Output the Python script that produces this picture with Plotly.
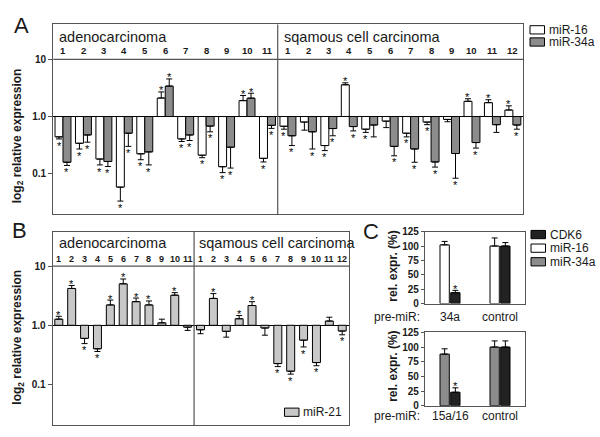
import numpy as np
import plotly.graph_objects as go

W, H = 600, 437
FONT = "Liberation Sans, Arial, sans-serif"
INK = "#1a1a1a"
FRAME = "#555555"
WHITE_BAR = "#ffffff"
GRAY_BAR = "#8c8c8c"
LIGHT_BAR = "#c8c8c8"
BLACK_BAR = "#222222"

# ---------------- data ----------------
adeno_ids = ["1", "2", "3", "4", "5", "6", "7", "8", "9", "10", "11"]
squam_ids = ["1", "2", "3", "4", "5", "6", "7", "8", "9", "10", "11", "12"]
group_names = ["adenocarcinoma", "sqamous cell carcinoma"]

# Panel A: relative expression (linear), SE, significance (adeno 1-11, then squamous 1-12)
a_mir16 = [0.44, 0.34, 0.18, 0.058, 0.222, 2.11, 0.405, 0.21, 0.132, 1.9, 0.185,
           0.675, 0.80, 0.31, 3.6, 0.60, 0.83, 0.51, 0.80, 0.89, 1.85, 1.75, 1.30]
a_mir16_err = [0.035, 0.07, 0.038, 0.025, 0.047, 0.59, 0.04, 0.02, 0.028, 0.44, 0.025,
               0.075, 0.223, 0.057, 0.3, 0.073, 0.19, 0.07, 0.08, 0.08, 0.2, 0.22, 0.24]
a_mir16_sig = [1, 1, 1, 1, 1, 1, 1, 1, 1, 1, 1,
               1, 0, 1, 1, 1, 0, 1, 1, 0, 1, 1, 1]
a_mir34a = [0.158, 0.475, 0.163, 0.51, 0.24, 3.42, 0.475, 0.68, 0.29, 2.1, 0.70,
            0.46, 0.54, 0.616, 0.667, 0.71, 0.30, 0.27, 0.16, 0.225, 0.35, 0.72, 0.71]
a_mir34a_err = [0.019, 0.12, 0.03, 0.21, 0.098, 1.14, 0.095, 0.14, 0.165, 0.46, 0.08,
                0.15, 0.27, 0.156, 0.107, 0.27, 0.095, 0.112, 0.03, 0.142, 0.07, 0.193, 0.11]
a_mir34a_sig = [1, 1, 1, 1, 1, 1, 1, 1, 1, 1, 1,
                1, 1, 1, 1, 0, 1, 1, 1, 1, 1, 0, 1]

# Panel B: miR-21
b_mir21 = [1.27, 4.2, 0.60, 0.40, 2.21, 5.03, 2.51, 2.21, 1.10, 3.23, 0.93,
           0.84, 2.85, 0.79, 1.29, 2.16, 0.90, 0.225, 0.167, 0.56, 0.234, 1.18, 0.80]
b_mir21_err = [0.15, 0.52, 0.11, 0.04, 0.46, 1.05, 0.38, 0.37, 0.17, 0.34, 0.11,
               0.12, 0.59, 0.16, 0.17, 0.35, 0.22, 0.025, 0.018, 0.13, 0.027, 0.19, 0.11]
b_mir21_sig = [1, 1, 1, 1, 1, 1, 1, 1, 0, 1, 0,
               0, 1, 0, 1, 1, 0, 1, 1, 1, 1, 0, 1]

# Panel C: rel. expression (%)
c_top_cats = ["34a", "control"]
c_top_mir16 = [102, 100]
c_top_mir16_err = [6, 14]
c_top_cdk6 = [19, 100]
c_top_cdk6_err = [4, 6]
c_top_cdk6_sig = [1, 0]
c_bot_cats = ["15a/16", "control"]
c_bot_mir34a = [88, 100]
c_bot_mir34a_err = [9, 10.5]
c_bot_cdk6 = [23, 100]
c_bot_cdk6_err = [7.5, 10.5]
c_bot_cdk6_sig = [1, 0]
c_axis_ticks = [0, 25, 50, 75, 100, 125]

positions = list(range(1, len(adeno_ids) + len(squam_ids) + 1))


def xp(x):
    return x / W


def yp(y):
    return 1 - y / H


def log_bars(vals, errs):
    v = np.array(vals, float)
    e = np.array(errs, float)
    lv = np.log10(v)
    end = np.where(v < 1, v - e, v + e)
    le = np.log10(end)
    plus = np.where(v < 1, 0.0, le - lv)
    minus = np.where(v < 1, lv - le, 0.0)
    return lv, le, plus, minus


traces = []
ann = []
shapes = []


def star(x, y, xa, ya):
    ann.append(dict(text="*", x=x, y=y, xref=xa, yref=ya, showarrow=False,
                    xanchor="center", yanchor="middle",
                    font=dict(family=FONT, size=11, color="#000000")))


def add_log_series(vals, errs, sig, color, offset, width, xa, ya, d_below, d_above):
    lv, le, plus, minus = log_bars(vals, errs)
    traces.append(go.Bar(
        x=positions, y=lv, offset=offset, width=width,
        marker=dict(color=color, line=dict(color="black", width=1)),
        error_y=dict(type="data", symmetric=False, array=plus, arrayminus=minus,
                     color="black", thickness=1, width=3),
        xaxis=xa, yaxis=ya, hoverinfo="skip"))
    for p, v, l, s in zip(positions, vals, le, sig):
        if s:
            star(p + offset + width / 2, l - d_below if v < 1 else l + d_above, xa, ya)


BW_A = 0.39
add_log_series(a_mir16, a_mir16_err, a_mir16_sig, WHITE_BAR, -BW_A, BW_A, "x", "y", 0.116, 0.026)
add_log_series(a_mir34a, a_mir34a_err, a_mir34a_sig, GRAY_BAR, 0.0, BW_A, "x", "y", 0.116, 0.026)
BW_B = 0.62
add_log_series(b_mir21, b_mir21_err, b_mir21_sig, LIGHT_BAR, -BW_B / 2, BW_B, "x2", "y2", 0.112, 0.025)


def add_c_series(cats_n, vals, errs, sig, color, offset, width, xa, ya):
    xs_pos = list(range(cats_n))
    traces.append(go.Bar(
        x=xs_pos, y=vals, offset=offset, width=width,
        marker=dict(color=color, line=dict(color="black", width=1)),
        error_y=dict(type="data", symmetric=False, array=errs, arrayminus=[0] * len(errs),
                     color="black", thickness=1, width=3),
        xaxis=xa, yaxis=ya, hoverinfo="skip"))
    if sig is not None:
        for p, v, e, s in zip(xs_pos, vals, errs, sig):
            if s:
                star(p + offset + width / 2, v + e + 3, xa, ya)


BW_C = 0.186
add_c_series(len(c_top_cats), c_top_mir16, c_top_mir16_err, None, WHITE_BAR, -0.2, BW_C, "x3", "y3")
add_c_series(len(c_top_cats), c_top_cdk6, c_top_cdk6_err, c_top_cdk6_sig, BLACK_BAR, 0.014, BW_C, "x3", "y3")
add_c_series(len(c_bot_cats), c_bot_mir34a, c_bot_mir34a_err, None, GRAY_BAR, -0.2, BW_C, "x4", "y4")
add_c_series(len(c_bot_cats), c_bot_cdk6, c_bot_cdk6_err, c_bot_cdk6_sig, BLACK_BAR, 0.014, BW_C, "x4", "y4")

fig = go.Figure(data=traces)

log_axis = dict(tickvals=[-1, 0, 1], ticktext=["0.1", "1.0", "10"], ticks="outside", ticklen=4,
                tickcolor=FRAME, showline=True, mirror=True, linecolor=FRAME, linewidth=1.2,
                showgrid=False, zeroline=True, zerolinecolor="black", zerolinewidth=1,
                tickfont=dict(family=FONT, size=10, color=INK, weight="bold"))
cat_x = dict(showline=True, mirror=True, linecolor=FRAME, linewidth=1.2, showgrid=False,
             zeroline=False, showticklabels=False, ticks="")
pct_axis = dict(range=[0, 125], tickvals=c_axis_ticks, ticks="outside", ticklen=3, tickcolor=FRAME,
                showline=True, mirror=True, linecolor=FRAME, linewidth=1.2, showgrid=False,
                zeroline=False, tickfont=dict(family=FONT, size=10, color=INK, weight="bold"))

fig.update_layout(
    width=W, height=H, margin=dict(l=0, r=0, t=0, b=0),
    paper_bgcolor="white", plot_bgcolor="white", barmode="overlay", showlegend=False,
    font=dict(family=FONT, color=INK),
    xaxis=dict(domain=[xp(53.3), xp(523.3)], range=[0.526, 23.51], anchor="y", **cat_x),
    yaxis=dict(domain=[yp(214), yp(19)], range=[-1.71, 1.613], anchor="x", **log_axis),
    xaxis2=dict(domain=[xp(52.7), xp(349.3)], range=[0.526, 23.55], anchor="y2", **cat_x),
    yaxis2=dict(domain=[yp(431), yp(232.3)], range=[-1.69, 1.58], anchor="x2", **log_axis),
    xaxis3=dict(domain=[xp(425), xp(525)], range=[-0.5, 1.5], anchor="y3", **cat_x),
    yaxis3=dict(domain=[yp(306), yp(232)], anchor="x3", **pct_axis),
    xaxis4=dict(domain=[xp(425), xp(525)], range=[-0.5, 1.5], anchor="y4", **cat_x),
    yaxis4=dict(domain=[yp(411), yp(335.6)], anchor="x4", **pct_axis),
)

# header lines and dividers
for xa, ya in [("x", "y"), ("x2", "y2")]:
    shapes.append(dict(type="line", xref=xa + " domain", yref=ya, x0=0, x1=1, y0=1, y1=1,
                       line=dict(color=FRAME, width=1.2)))
    shapes.append(dict(type="line", xref=xa, yref=ya + " domain", x0=11.5, x1=11.5, y0=0, y1=1,
                       line=dict(color=FRAME, width=1.2)))

# group headers and sample numbers
for xa, ytitle, ynum, xl in [("x", 31.7, 45.3, [57, 282]), ("x2", 243.3, 260, [57.3, 197.3])]:
    for name, x0 in zip(group_names, xl):
        ann.append(dict(text=name, xref="paper", yref="paper", x=xp(x0), y=yp(ytitle),
                        xanchor="left", yanchor="middle", showarrow=False,
                        font=dict(family=FONT, size=14.5, color=INK)))
    for lab, p in zip(adeno_ids + squam_ids, positions):
        ann.append(dict(text=lab, xref=xa, yref="paper", x=p, y=yp(ynum), xanchor="center",
                        yanchor="middle", showarrow=False,
                        font=dict(family=FONT, size=9.5 if xa == "x" else 9, color=INK, weight="bold")))

# y titles
for yc in [134, 341]:
    ann.append(dict(text="<b>log<sub>2</sub> relative expression</b>", xref="paper", yref="paper",
                    x=xp(18), y=yp(yc), textangle=-90, showarrow=False, xanchor="center", yanchor="middle",
                    font=dict(family=FONT, size=12, color=INK)))
for yc in [268, 371]:
    ann.append(dict(text="<b>rel. expr. (%)</b>", xref="paper", yref="paper",
                    x=xp(393), y=yp(yc), textangle=-90, showarrow=False, xanchor="center", yanchor="middle",
                    font=dict(family=FONT, size=12, color=INK)))

# panel letters
for lt, x0, y0 in [("A", 21, 20), ("B", 19, 231), ("C", 371, 232)]:
    ann.append(dict(text=lt, xref="paper", yref="paper", x=xp(x0), y=yp(y0), showarrow=False,
                    xanchor="center", yanchor="middle", font=dict(family=FONT, size=22, color=INK)))

# panel C category labels
for cats, xa, yc in [(c_top_cats, "x3", 320), (c_bot_cats, "x4", 421.5)]:
    ann.append(dict(text="pre-miR:", xref="paper", yref="paper", x=xp(397), y=yp(yc), showarrow=False,
                    xanchor="center", yanchor="middle", font=dict(family=FONT, size=12, color=INK)))
    for i, c in enumerate(cats):
        ann.append(dict(text=c, xref=xa, yref="paper", x=i, y=yp(yc), showarrow=False,
                        xanchor="center", yanchor="middle", font=dict(family=FONT, size=12, color=INK)))


# legends
def legend_item(x0, yc, color, label, w=14.5, h=8.5):
    shapes.append(dict(type="rect", xref="paper", yref="paper", x0=xp(x0), x1=xp(x0 + w),
                       y0=yp(yc + h / 2), y1=yp(yc - h / 2), fillcolor=color,
                       line=dict(color="black", width=1)))
    ann.append(dict(text=label, xref="paper", yref="paper", x=xp(x0 + w + 2.5), y=yp(yc),
                    xanchor="left", yanchor="middle", showarrow=False,
                    font=dict(family=FONT, size=12, color=INK)))


legend_item(530, 24.5, WHITE_BAR, "miR-16")
legend_item(530, 37, GRAY_BAR, "miR-34a")
legend_item(284.5, 417.7, LIGHT_BAR, "miR-21")
legend_item(531, 235, BLACK_BAR, "CDK6")
legend_item(531, 249, WHITE_BAR, "miR-16")
legend_item(531, 263, GRAY_BAR, "miR-34a")

fig.update_layout(shapes=shapes, annotations=ann)
fig.write_html("out.html", config={"displayModeBar": False},
               post_script="document.body.style.margin='0';document.body.style.overflow='hidden';")
